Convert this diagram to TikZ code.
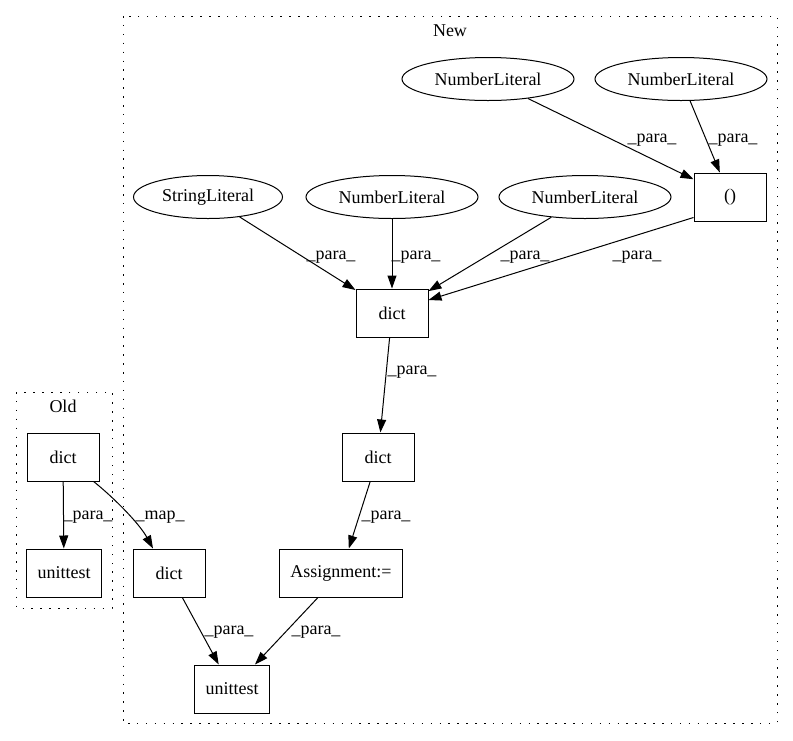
\documentclass[tikz,border=0pt]{standalone}
\usepackage{fontspec}
\setmainfont{Liberation Serif}
\usetikzlibrary{arrows.meta,shapes.geometric}

\begin{document}
\begin{tikzpicture}[x=1pt,y=-1pt,
  every node/.style={font=\fontsize{18}{21}\selectfont},
  box/.style={draw,line width=1pt,minimum width=72pt,minimum height=48pt,inner xsep=11pt,inner ysep=0pt},
  oval/.style={draw,ellipse,line width=1pt,minimum width=172pt,minimum height=43pt,inner sep=0pt},
  lbl/.style={inner sep=0pt},
  arr/.style={line width=1pt,-{Triangle[length=13pt,width=9pt]}},
  cluster/.style={line width=1pt,dash pattern=on 1.5pt off 7.4pt}]
\useasboundingbox (0,0) rectangle (793,740);
% clusters
\draw[cluster] (123,16) rectangle (777,723);
\node[lbl] (newlbl) at (450,31) {New};
\draw[cluster] (16,392) rectangle (112,608);
\node[lbl] (oldlbl) at (63,406) {Old};
% nodes
\node[oval] (nlA) at (488,79) {NumberLiteral};
\node[oval] (nlB) at (681,79) {NumberLiteral};
\node[box] (tuple) at (730,197) {()};
\node[oval,minimum width=149pt] (strlit) at (208,197) {StringLiteral};
\node[oval] (nlC) at (392,197) {NumberLiteral};
\node[oval] (nlD) at (585,197) {NumberLiteral};
\node[box] (dictA) at (392,313) {dict};
\node[box] (dictB) at (378,457) {dict};
\node[box] (assign) at (341,573) {Assignment:=};
\node[box] (dictC) at (169,573) {dict};
\node[box] (testNew) at (232,689) {unittest};
\node[box] (dictOld) at (63,457) {dict};
\node[box] (testOld) at (64,573) {unittest};
% edges
\draw[arr] (nlA) -- (tuple) node[lbl] at (652,140) {\_para\_};
\draw[arr] (nlB) -- (tuple) node[lbl] at (733,140) {\_para\_};
\draw[arr] ([yshift=4pt]tuple.south west) -- ([yshift=13pt]dictA.east) node[lbl] at (637,257) {\_para\_};
\draw[arr] (nlD) -- (dictA) node[lbl] at (525,257) {\_para\_};
\draw[arr] (nlC) -- (dictA) node[lbl] at (416,257) {\_para\_};
\draw[arr] (strlit) -- (dictA) node[lbl] at (331,257) {\_para\_};
\draw[arr] (dictA) -- (dictB) node[lbl] at (412,372) {\_para\_};
\draw[arr] (dictB) -- (assign) node[lbl] at (386,517) {\_para\_};
\draw[arr] (assign) -- (testNew) node[lbl] at (316,632) {\_para\_};
\draw[arr] (dictC) -- (testNew) node[lbl] at (229,632) {\_para\_};
\draw[arr] (dictOld) -- (testOld) node[lbl] at (88,517) {\_para\_};
\draw[arr] (dictOld) .. controls (113,497) and (139,523) .. ([xshift=-16pt]dictC.north) node[lbl] at (160,517) {\_map\_};
\end{tikzpicture}
\end{document}
